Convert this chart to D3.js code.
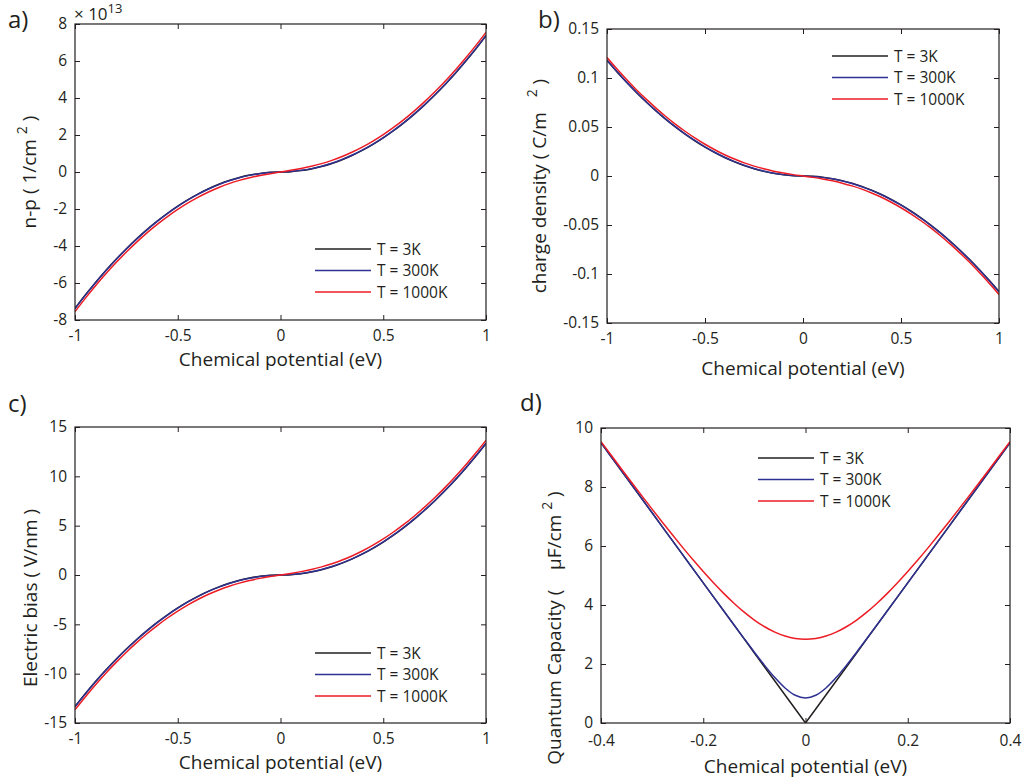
<!DOCTYPE html>
<html>
<head>
<meta charset="utf-8">
<script src="https://cdn.jsdelivr.net/npm/d3@7"></script>
<style>
  body { margin: 0; background: #fff; }
  svg text { font-family: "Open Sans", sans-serif; fill: #231f20; white-space: pre; }
</style>
</head>
<body>
<svg id="fig" width="1024" height="784"></svg>
<script>
// Chemical potential grids (eV)
const muWide = [-1, -0.95, -0.9, -0.85, -0.8, -0.75, -0.7, -0.65, -0.6, -0.55, -0.5, -0.45, -0.4, -0.35, -0.3, -0.25, -0.2, -0.15, -0.1, -0.05, 0,
  0.05, 0.1, 0.15, 0.2, 0.25, 0.3, 0.35, 0.4, 0.45, 0.5, 0.55, 0.6, 0.65, 0.7, 0.75, 0.8, 0.85, 0.9, 0.95, 1];
const muNarrow = [-0.4, -0.38, -0.36, -0.34, -0.32, -0.3, -0.28, -0.26, -0.24, -0.22, -0.2, -0.18, -0.16, -0.14, -0.12, -0.1, -0.08, -0.06, -0.04, -0.02, 0,
  0.02, 0.04, 0.06, 0.08, 0.1, 0.12, 0.14, 0.16, 0.18, 0.2, 0.22, 0.24, 0.26, 0.28, 0.3, 0.32, 0.34, 0.36, 0.38, 0.4];

const seriesNames = ["T = 3K", "T = 300K", "T = 1000K"];
const seriesColors = ["#231f20", "#2e3192", "#ed1c24"];

// a) carrier imbalance n-p (x 1e13 per cm^2)
const np3K = [-7.370, -6.651, -5.970, -5.325, -4.717, -4.146, -3.611, -3.114, -2.653, -2.229, -1.843, -1.492, -1.179, -0.903, -0.663, -0.461, -0.295, -0.166, -0.074, -0.018, 0,
  0.018, 0.074, 0.166, 0.295, 0.461, 0.663, 0.903, 1.179, 1.492, 1.843, 2.229, 2.653, 3.114, 3.611, 4.146, 4.717, 5.325, 5.970, 6.651, 7.370];
const np300K = [-7.386, -6.668, -5.986, -5.341, -4.733, -4.162, -3.628, -3.130, -2.669, -2.246, -1.859, -1.509, -1.195, -0.919, -0.680, -0.477, -0.311, -0.182, -0.090, -0.032, 0,
  0.032, 0.090, 0.182, 0.311, 0.477, 0.680, 0.919, 1.195, 1.509, 1.859, 2.246, 2.669, 3.130, 3.628, 4.162, 4.733, 5.341, 5.986, 6.668, 7.386];
const np1000K = [-7.550, -6.831, -6.150, -5.505, -4.897, -4.326, -3.791, -3.294, -2.833, -2.409, -2.022, -1.672, -1.357, -1.079, -0.837, -0.629, -0.454, -0.309, -0.190, -0.090, 0,
  0.090, 0.190, 0.309, 0.454, 0.629, 0.837, 1.079, 1.357, 1.672, 2.022, 2.409, 2.833, 3.294, 3.791, 4.326, 4.897, 5.505, 6.150, 6.831, 7.550];

// b) charge density (C/m^2)
const rho3K = [0.1180, 0.1065, 0.0956, 0.0853, 0.0755, 0.0664, 0.0578, 0.0499, 0.0425, 0.0357, 0.0295, 0.0239, 0.0189, 0.0145, 0.0106, 0.0074, 0.0047, 0.0027, 0.0012, 0.0003, 0,
  -0.0003, -0.0012, -0.0027, -0.0047, -0.0074, -0.0106, -0.0145, -0.0189, -0.0239, -0.0295, -0.0357, -0.0425, -0.0499, -0.0578, -0.0664, -0.0755, -0.0853, -0.0956, -0.1065, -0.1180];
const rho300K = [0.1183, 0.1068, 0.0958, 0.0855, 0.0758, 0.0666, 0.0581, 0.0501, 0.0427, 0.0360, 0.0298, 0.0242, 0.0191, 0.0147, 0.0109, 0.0076, 0.0050, 0.0029, 0.0014, 0.0005, 0,
  -0.0005, -0.0014, -0.0029, -0.0050, -0.0076, -0.0109, -0.0147, -0.0191, -0.0242, -0.0298, -0.0360, -0.0427, -0.0501, -0.0581, -0.0666, -0.0758, -0.0855, -0.0958, -0.1068, -0.1183];
const rho1000K = [0.1209, 0.1094, 0.0985, 0.0881, 0.0784, 0.0693, 0.0607, 0.0527, 0.0454, 0.0386, 0.0324, 0.0268, 0.0217, 0.0173, 0.0134, 0.0101, 0.0073, 0.0049, 0.0030, 0.0014, 0,
  -0.0014, -0.0030, -0.0049, -0.0073, -0.0101, -0.0134, -0.0173, -0.0217, -0.0268, -0.0324, -0.0386, -0.0454, -0.0527, -0.0607, -0.0693, -0.0784, -0.0881, -0.0985, -0.1094, -0.1209];

// c) electric bias (V/nm)
const bias3K = [-13.330, -12.030, -10.797, -9.631, -8.531, -7.498, -6.532, -5.632, -4.799, -4.032, -3.333, -2.699, -2.133, -1.633, -1.200, -0.833, -0.533, -0.300, -0.133, -0.033, 0,
  0.033, 0.133, 0.300, 0.533, 0.833, 1.200, 1.633, 2.133, 2.699, 3.333, 4.032, 4.799, 5.632, 6.532, 7.498, 8.531, 9.631, 10.797, 12.030, 13.330];
const bias300K = [-13.359, -12.060, -10.827, -9.660, -8.561, -7.528, -6.561, -5.661, -4.828, -4.062, -3.362, -2.729, -2.162, -1.662, -1.229, -0.863, -0.563, -0.329, -0.162, -0.058, 0,
  0.058, 0.162, 0.329, 0.563, 0.863, 1.229, 1.662, 2.162, 2.729, 3.362, 4.062, 4.828, 5.661, 6.561, 7.528, 8.561, 9.660, 10.827, 12.060, 13.359];
const bias1000K = [-13.655, -12.356, -11.123, -9.956, -8.857, -7.823, -6.857, -5.957, -5.124, -4.358, -3.656, -3.023, -2.454, -1.952, -1.513, -1.137, -0.821, -0.559, -0.343, -0.162, 0,
  0.162, 0.343, 0.559, 0.821, 1.137, 1.513, 1.952, 2.454, 3.023, 3.656, 4.358, 5.124, 5.957, 6.857, 7.823, 8.857, 9.956, 11.123, 12.356, 13.655];

// d) quantum capacitance (uF/cm^2)
const cq3K = [9.500, 9.025, 8.550, 8.075, 7.600, 7.125, 6.650, 6.175, 5.700, 5.225, 4.750, 4.275, 3.800, 3.325, 2.850, 2.375, 1.900, 1.425, 0.950, 0.475, 0,
  0.475, 0.950, 1.425, 1.900, 2.375, 2.850, 3.325, 3.800, 4.275, 4.750, 5.225, 5.700, 6.175, 6.650, 7.125, 7.600, 8.075, 8.550, 9.025, 9.500];
const cq300K = [9.500, 9.025, 8.550, 8.075, 7.600, 7.125, 6.650, 6.175, 5.700, 5.225, 4.751, 4.276, 3.803, 3.331, 2.862, 2.400, 1.954, 1.540, 1.187, 0.941, 0.851,
  0.941, 1.187, 1.540, 1.954, 2.400, 2.862, 3.331, 3.803, 4.276, 4.751, 5.225, 5.700, 6.175, 6.650, 7.125, 7.600, 8.075, 8.550, 9.025, 9.500];
const cq1000K = [9.539, 9.074, 8.612, 8.153, 7.699, 7.249, 6.806, 6.371, 5.945, 5.532, 5.134, 4.753, 4.394, 4.061, 3.758, 3.491, 3.263, 3.080, 2.947, 2.865, 2.837,
  2.865, 2.947, 3.080, 3.263, 3.491, 3.758, 4.061, 4.394, 4.753, 5.134, 5.532, 5.945, 6.371, 6.806, 7.249, 7.699, 8.153, 8.612, 9.074, 9.539];

// tick values
const xTicksWide = [-1, -0.5, 0, 0.5, 1];
const xTicksNarrow = [-0.4, -0.2, 0, 0.2, 0.4];
const yTicksA = [-8, -6, -4, -2, 0, 2, 4, 6, 8];
const yTicksB = [-0.15, -0.1, -0.05, 0, 0.05, 0.1, 0.15];
const yTicksC = [-15, -10, -5, 0, 5, 10, 15];
const yTicksD = [0, 2, 4, 6, 8, 10];

const svg = d3.select("#fig");
const fmt = d => String(d);

const panels = [
  { tag: "a)", tagPos: [8, 28], box: [75, 24, 486, 320], xs: muWide, xDomain: [-1, 1], yDomain: [-8, 8],
    xTicks: xTicksWide, yTicks: yTicksA, ys: [np3K, np300K, np1000K], curve: [d3.curveMonotoneX, d3.curveMonotoneX, d3.curveMonotoneX],
    legend: [315, 249], yLabel: [["n-p ( 1/cm ", 0], ["2", 1], [" )", 0]], yLabelPos: [36, 172], xLabelY: 366, xPad: 10 },
  { tag: "b)", tagPos: [538, 28], box: [607, 29, 999, 323], xs: muWide, xDomain: [-1, 1], yDomain: [-0.15, 0.15],
    xTicks: xTicksWide, yTicks: yTicksB, ys: [rho3K, rho300K, rho1000K], curve: [d3.curveMonotoneX, d3.curveMonotoneX, d3.curveMonotoneX],
    legend: [832, 56], yLabel: [["charge density ( C/m   ", 0], ["2", 1], [" )", 0]], yLabelPos: [546, 186], xLabelY: 375, xPad: 10 },
  { tag: "c)", tagPos: [8, 412], box: [75, 427, 486, 723], xs: muWide, xDomain: [-1, 1], yDomain: [-15, 15],
    xTicks: xTicksWide, yTicks: yTicksC, ys: [bias3K, bias300K, bias1000K], curve: [d3.curveMonotoneX, d3.curveMonotoneX, d3.curveMonotoneX],
    legend: [315, 653], yLabel: [["Electric bias ( V/nm )", 0]], yLabelPos: [37, 598], xLabelY: 769, xPad: 10 },
  { tag: "d)", tagPos: [520, 411], box: [601, 428, 1010, 723], xs: muNarrow, xDomain: [-0.4, 0.4], yDomain: [0, 10],
    xTicks: xTicksNarrow, yTicks: yTicksD, ys: [cq3K, cq300K, cq1000K], curve: [d3.curveLinear, d3.curveMonotoneX, d3.curveMonotoneX],
    legend: [758, 458], yLabel: [["Quantum Capacity (    μF/cm ", 0], ["2", 1], [" )", 0]], yLabelPos: [561, 628], xLabelY: 773, xPad: 12 }
];

panels.forEach((p, pi) => {
  const [x0, y0, x1, y1] = p.box;
  const x = d3.scaleLinear().domain(p.xDomain).range([x0, x1]);
  const y = d3.scaleLinear().domain(p.yDomain).range([y1, y0]);
  const g = svg.append("g");

  const clipId = "clip" + pi;
  g.append("clipPath").attr("id", clipId).append("rect")
    .attr("x", x0).attr("y", y0).attr("width", x1 - x0).attr("height", y1 - y0);

  // curves
  const plot = g.append("g").attr("clip-path", `url(#${clipId})`);
  p.ys.forEach((vals, si) => {
    const line = d3.line().x((d, i) => x(p.xs[i])).y(d => y(d)).curve(p.curve[si]);
    plot.append("path").datum(vals).attr("d", line)
      .attr("fill", "none").attr("stroke", seriesColors[si]).attr("stroke-width", 1.5);
  });

  // axes with inward ticks on all four sides
  const styleAxis = sel => {
    sel.selectAll(".domain").remove();
    sel.selectAll(".tick line").attr("stroke", "#231f20").attr("stroke-width", 1);
    sel.selectAll(".tick text").style("font-size", "15.5px").attr("fill", "#231f20");
  };
  g.append("g").attr("transform", `translate(0,${y1})`)
    .call(d3.axisBottom(x).tickValues(p.xTicks).tickFormat(fmt).tickSize(-5).tickPadding(p.xPad))
    .call(styleAxis).attr("font-family", null);
  g.append("g").attr("transform", `translate(0,${y0})`)
    .call(d3.axisTop(x).tickValues(p.xTicks).tickFormat("").tickSize(-5))
    .call(styleAxis);
  g.append("g").attr("transform", `translate(${x0},0)`)
    .call(d3.axisLeft(y).tickValues(p.yTicks).tickFormat(fmt).tickSize(-5).tickPadding(8))
    .call(styleAxis).attr("font-family", null);
  g.append("g").attr("transform", `translate(${x1},0)`)
    .call(d3.axisRight(y).tickValues(p.yTicks).tickFormat("").tickSize(-5))
    .call(styleAxis);

  g.append("rect").attr("x", x0).attr("y", y0).attr("width", x1 - x0).attr("height", y1 - y0)
    .attr("fill", "none").attr("stroke", "#231f20").attr("stroke-width", 1.2);

  // panel tag
  g.append("text").attr("x", p.tagPos[0]).attr("y", p.tagPos[1]).style("font-size", "24px").text(p.tag);

  // x label
  g.append("text").attr("x", (x0 + x1) / 2).attr("y", p.xLabelY).attr("text-anchor", "middle")
    .style("font-size", "19px").text("Chemical potential (eV)");

  // y label (rotated, with optional superscript)
  const yl = g.append("text").attr("transform", `translate(${p.yLabelPos[0]},${p.yLabelPos[1]}) rotate(-90)`)
    .attr("text-anchor", "middle").style("font-size", "19px");
  let raised = 0;
  p.yLabel.forEach(([t, sup]) => {
    const ts = yl.append("tspan").text(t);
    if (sup && !raised) { ts.attr("dy", -9).style("font-size", "14px"); raised = 1; }
    else if (!sup && raised) { ts.attr("dy", 9); raised = 0; }
  });

  // legend
  const [lx, ly] = p.legend;
  seriesNames.forEach((name, si) => {
    const yy = ly + si * 21.5;
    g.append("line").attr("x1", lx).attr("x2", lx + 56).attr("y1", yy).attr("y2", yy)
      .attr("stroke", seriesColors[si]).attr("stroke-width", 1.5);
    g.append("text").attr("x", lx + 62).attr("y", yy + 5.5).style("font-size", "15.5px").text(name);
  });

  // scale exponent for panel a
  if (pi === 0) {
    const ex = g.append("text").attr("x", x0 - 1).attr("y", 20).style("font-size", "17px");
    ex.append("tspan").text("× 10");
    ex.append("tspan").attr("dy", -7).style("font-size", "13px").text("13");
  }
});
</script>
</body>
</html>
